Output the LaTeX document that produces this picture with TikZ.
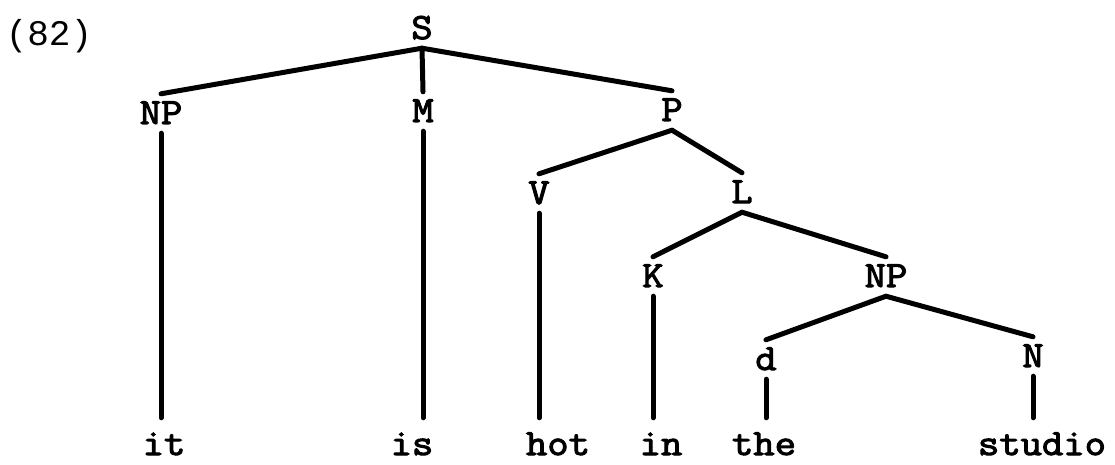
\documentclass[tikz,border=0pt]{standalone}
\usepackage{fontspec}
\setmainfont{Liberation Mono}
\newfontfamily\twfont{Latin Modern Mono}[FakeStretch=1.12, FakeBold=2.8]
\begin{document}
\begin{tikzpicture}[x=1pt,y=-1pt,
  every node/.style={font=\fontsize{37}{40}\selectfont\twfont},
  cat/.style={inner sep=0pt, text height=30pt, text depth=9pt, anchor=base},
  word/.style={inner sep=0pt, text height=37pt, text depth=3pt, anchor=base},
  branch/.style={line width=5pt, line cap=round},
  label/.style={font=\fontsize{36}{40}\selectfont, inner sep=0pt, anchor=base}]
\useasboundingbox (0,0) rectangle (1115,465);
% example number
\node[label] (num) at (49,46) {(82)};
% categories
\node[cat] (S)   at (422,39)  {S};
\node[cat] (NPa) at (161,124) {NP};
\node[cat] (M)   at (423,122) {M};
\node[cat] (P)   at (672,121) {P};
\node[cat] (V)   at (539,204) {V};
\node[cat] (L)   at (742,203) {L};
\node[cat] (K)   at (653,287) {K};
\node[cat] (NPb) at (886,287) {NP};
\node[cat] (d)   at (766,370) {d};
\node[cat] (N)   at (1033,367) {N};
% words
\node[word] (wit)     at (164,455)  {it};
\node[word] (wis)     at (412,455)  {is};
\node[word] (whot)    at (558,455)  {hot};
\node[word] (win)     at (661,455)  {in};
\node[word] (wthe)    at (764,455)  {the};
\node[word] (wstudio) at (1042,455) {studio};
% branches
\draw[branch] (S.south) -- (NPa.north);
\draw[branch] (S.south) -- (M.north);
\draw[branch] (S.south) -- (P.north);
\draw[branch] (P.south) -- (V.north);
\draw[branch] (P.south) -- (L.north);
\draw[branch] (L.south) -- (K.north);
\draw[branch] (L.south) -- (NPb.north);
\draw[branch] (NPb.south) -- (d.north);
\draw[branch] (NPb.south) -- (N.north);
% vertical lines to words
\draw[branch] (NPa.south) -- (NPa.south |- wit.north);
\draw[branch] (M.south) -- (M.south |- wis.north);
\draw[branch] (V.south) -- (V.south |- whot.north);
\draw[branch] (K.south) -- (K.south |- win.north);
\draw[branch] (d.south) -- (d.south |- wthe.north);
\draw[branch] (N.south) -- (N.south |- wstudio.north);
\end{tikzpicture}
\end{document}
